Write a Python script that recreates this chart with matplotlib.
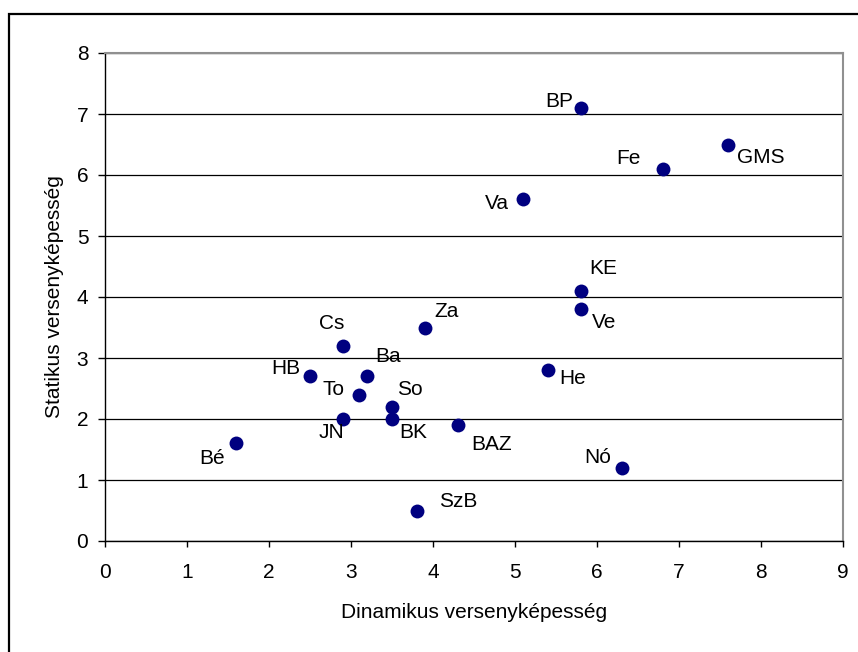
import matplotlib
matplotlib.use("Agg")
import matplotlib.pyplot as plt
from matplotlib.patches import Rectangle

# ---- data ----
labels = ["BP", "GMS", "Fe", "Va", "KE", "Ve", "He", "Nó", "Za", "Cs",
          "Ba", "HB", "To", "So", "BK", "JN", "BAZ", "Bé", "SzB"]
dinamikus = [5.8, 7.6, 6.8, 5.1, 5.8, 5.8, 5.4, 6.3, 3.9, 2.9,
             3.2, 2.5, 3.1, 3.5, 3.5, 2.9, 4.3, 1.6, 3.8]
statikus = [7.1, 6.5, 6.1, 5.6, 4.1, 3.8, 2.8, 1.2, 3.5, 3.2,
            2.7, 2.7, 2.4, 2.2, 2.0, 2.0, 1.9, 1.6, 0.5]
x_ticks = [0, 1, 2, 3, 4, 5, 6, 7, 8, 9]
y_ticks = [0, 1, 2, 3, 4, 5, 6, 7, 8]
x_title = "Dinamikus versenyképesség"
y_title = "Statikus versenyképesség"

# label placement (pixel offsets, alignment)
label_pos = {
    "BP": (-7, 6, "right"), "GMS": (9, -13, "left"), "Fe": (-22, 10, "right"),
    "Va": (-14, -4, "right"), "KE": (9, 22, "left"), "Ve": (11, -13, "left"),
    "He": (11, -8, "left"), "Nó": (-10, 10, "right"), "Za": (10, 16, "left"),
    "Cs": (-11, 22, "center"), "Ba": (8, 20, "left"), "HB": (-10, 8, "right"),
    "To": (-15, 5, "right"), "So": (5, 17, "left"), "BK": (7, -14, "left"),
    "JN": (-11, -14, "center"), "BAZ": (14, -19, "left"), "Bé": (-11, -15, "right"),
    "SzB": (22, 9, "left"),
}

plt.rcParams['font.family'] = ['Liberation Sans', 'DejaVu Sans']
FS = 15

fig = plt.figure(figsize=(8.58, 6.52), dpi=100)
ax = fig.add_axes([105/858, 111/652, 738/858, 488/652])

# outer frame
fig.patches.append(Rectangle((9/858, -0.2), 1.5, 0.2 + 1 - 14/652,
                             transform=fig.transFigure, fill=False,
                             edgecolor='black', linewidth=1.6))

ax.scatter(dinamikus, statikus, s=100, color='#000080', zorder=3, linewidths=0)

for lab, x, y in zip(labels, dinamikus, statikus):
    dx, dy, ha = label_pos[lab]
    ax.annotate(lab, (x, y), xytext=(dx, dy), textcoords='offset pixels',
                ha=ha, va='center', fontsize=FS, color='black')

ax.set_xlim(0, 9)
ax.set_ylim(0, 8)
ax.set_xticks(x_ticks)
ax.set_yticks(y_ticks)
ax.yaxis.grid(True, color='black', linewidth=0.9)
ax.set_axisbelow(True)

for s in ['top', 'right']:
    ax.spines[s].set_color('#909090')
    ax.spines[s].set_linewidth(1.5)
for s in ['left', 'bottom']:
    ax.spines[s].set_color('black')
    ax.spines[s].set_linewidth(1.0)

ax.tick_params(axis='x', direction='out', length=4, width=1, pad=12, labelsize=FS)
ax.tick_params(axis='y', direction='out', length=5, width=1, pad=7, labelsize=FS)

ax.set_xlabel(x_title, fontsize=FS, labelpad=15)
ax.set_ylabel(y_title, fontsize=FS, labelpad=9)

fig.savefig("out.png", dpi=100)
